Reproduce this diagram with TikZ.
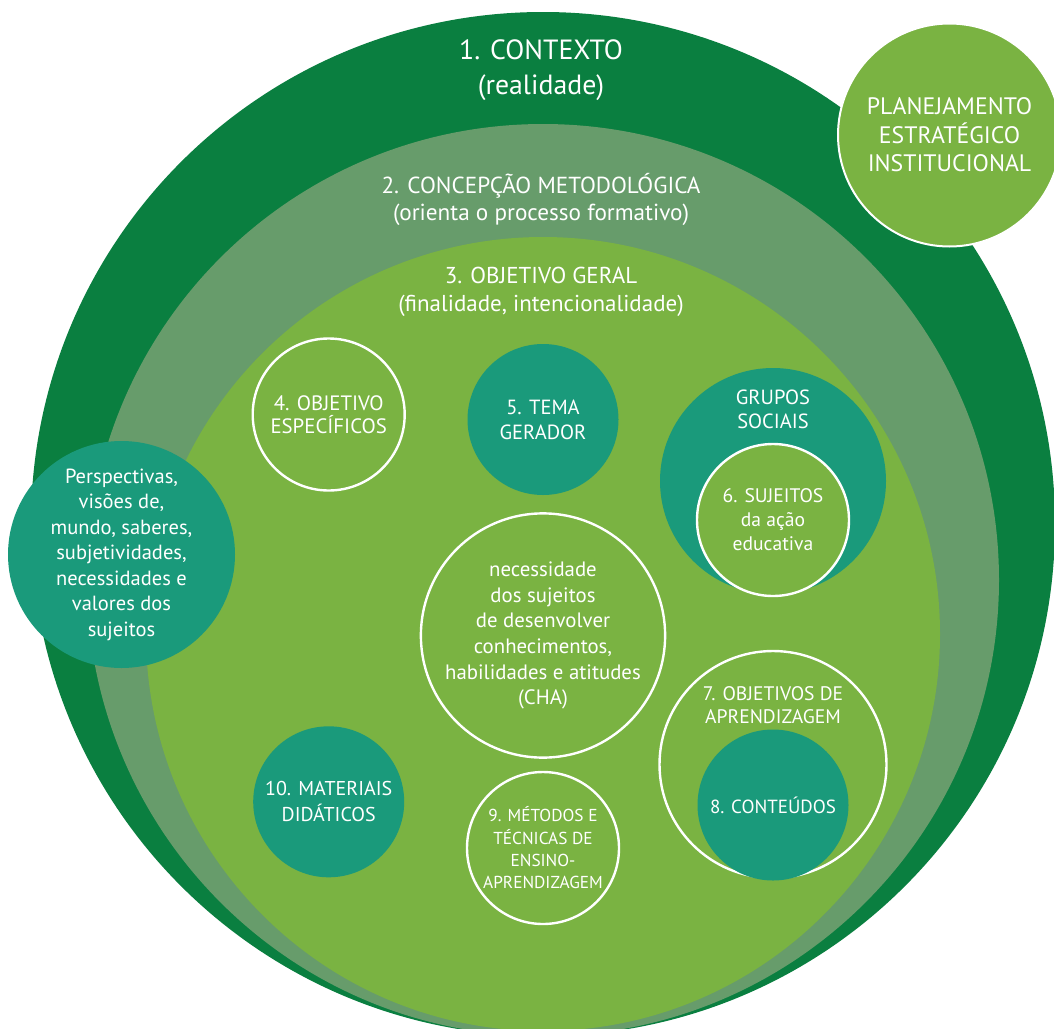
\documentclass[tikz,border=0pt]{standalone}
\usepackage{fontspec}
\setmainfont{PT Sans}
\definecolor{contexto}{HTML}{0A7F40}
\definecolor{concepcao}{HTML}{679C6B}
\definecolor{objgeral}{HTML}{7AB342}
\definecolor{verdeazul}{HTML}{1A9A7B}
\newcommand{\fs}[2]{\fontsize{#1}{#2}\selectfont}
\begin{document}
\begin{tikzpicture}[x=1pt,y=-1pt,
	bola/.style={circle,inner sep=0pt,align=center,text=white},
	cheia/.style={bola,fill=verdeazul},
	aro/.style={bola,draw=white,line width=2.4pt},
	titulo/.style={text=white,align=center,inner sep=0pt}]
	\useasboundingbox (0,0) rectangle (1054,1028);
	\clip (0,0) rectangle (1054,1028);
	
	% os tres circulos grandes
	\fill[contexto] (543,524) circle[radius=512pt];
	\fill[concepcao] (543,580) circle[radius=456pt];
	\fill[objgeral] (543,634) circle[radius=397pt];
	
	\node[cheia,minimum size=227pt,font=\fs{20.5}{25.5}] (persp) at (121.5,554.5)
	{Perspectivas,\\visões de,\\mundo, saberes,\\subjetividades,\\necessidades e\\valores dos\\sujeitos};
	\node[bola,fill=objgeral,draw=white,line width=2pt,minimum size=223pt,font=\fs{23.8}{28.5}] (plan) at (949.5,135)
	{PLANEJAMENTO\\ESTRATÉGICO\\INSTITUCIONAL};
	
	\node[titulo,font=\fs{27.8}{35}] (contexto) at (541,70.5) {1. CONTEXTO\\(realidade)};
	\node[titulo,font=\fs{23.2}{27}] (concepcao) at (541,199) {2. CONCEPÇÃO METODOLÓGICA\\(orienta o processo formativo)};
	\node[titulo,font=\fs{23}{28}] (geral) at (541,292) {3. OBJETIVO GERAL\\(finalidade, intencionalidade)};
	
	\node[aro,minimum size=152pt,font=\fs{20.8}{23.5}] (especificos) at (328.7,414.5) {4. OBJETIVO\\ESPECÍFICOS};
	\node[cheia,minimum size=151pt,font=\fs{20.5}{25}] (tema) at (543,419.5) {5. TEMA\\GERADOR};
	
	\node[cheia,minimum size=226pt] (grupos) at (773,481) {};
	\node[titulo,font=\fs{20.5}{24.5}] (gruposlbl) at (773,409.5) {GRUPOS\\SOCIAIS};
	\node[aro,fill=objgeral,minimum size=152pt,font=\fs{19.6}{24}] (sujeitos) at (773,520) {6. SUJEITOS\\da ação\\educativa};
	
	\node[aro,minimum size=229pt,font=\fs{20.8}{25.7}] (cha) at (543,635.5)
	{necessidade\\dos sujeitos\\de desenvolver\\conhecimentos,\\habilidades e atitudes\\(CHA)};
	
	\node[aro,minimum size=227pt] (aprend) at (773,764.5) {};
	\node[titulo,font=\fs{19.6}{23}] (aprendlbl) at (773,705.5) {7. OBJETIVOS DE\\APRENDIZAGEM};
	\node[cheia,minimum size=151pt,font=\fs{19}{24}] (conteudos) at (773,805) {8. CONTEÚDOS};
	
	\node[cheia,minimum size=151pt,font=\fs{20}{26}] (materiais) at (328.7,801.8) {10. MATERIAIS\\DIDÁTICOS};
	\node[aro,minimum size=152pt,font=\fs{17.3}{22.3}] (metodos) at (543,848)
	{9. MÉTODOS E\\TÉCNICAS DE\\ENSINO-\\APRENDIZAGEM};
	
\end{tikzpicture}
\end{document}
